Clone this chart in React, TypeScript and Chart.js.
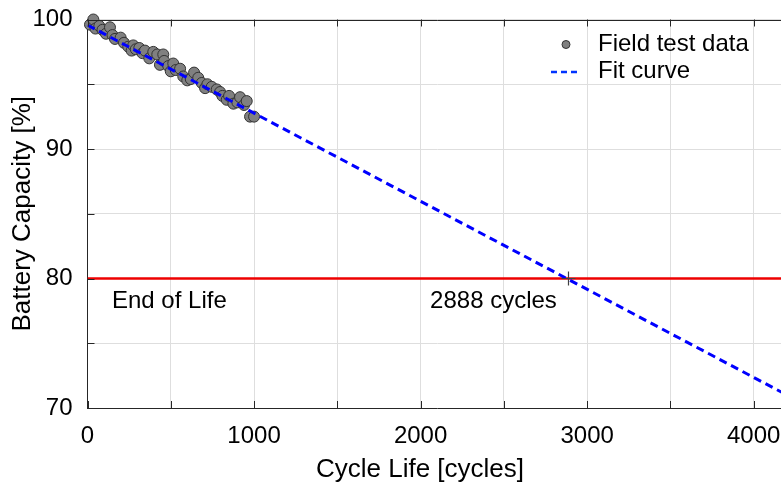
import { useEffect, useRef } from 'react';
import { Chart, registerables } from 'chart.js';

Chart.register(...registerables);

// ---- data ----
const fieldCycles = [15, 35, 48, 71, 90, 111, 135, 150, 165, 199, 219, 245, 265, 275, 290, 311, 330, 345, 371, 395, 419, 435, 455, 460, 485, 500, 515, 530, 556, 575, 599, 620, 640, 665, 686, 706, 720, 746, 776, 796, 810, 836, 850, 876, 900, 916, 940, 956, 976, 1000];
const fieldCapacity = [99.6, 100.0, 99.3, 99.5, 99.2, 98.9, 99.4, 98.8, 98.5, 98.6, 98.2, 97.9, 97.6, 98.0, 97.7, 97.8, 97.4, 97.6, 97.0, 97.5, 97.3, 96.5, 97.3, 96.8, 96.4, 96.0, 96.6, 96.1, 96.2, 95.6, 95.3, 95.4, 95.9, 95.5, 95.1, 94.7, 95.0, 94.8, 94.6, 94.4, 94.1, 93.8, 94.1, 93.5, 93.6, 94.0, 93.4, 93.7, 92.5, 92.5];
const fitCycles = [0, 4200];
const fitCapacity = [99.57, 71.0];
const eolCycles = [0, 4200];
const eolCapacity = [80, 80];
const crossingCycles = [2888];
const crossingCapacity = [80];
const xTickValues = [0, 500, 1000, 1500, 2000, 2500, 3000, 3500, 4000];
const yTickValues = [70, 75, 80, 85, 90, 95, 100];
const xLabeledTicks = [0, 1000, 2000, 3000, 4000];
const yLabeledTicks = [70, 80, 90, 100];
const legendLabels = ['Field test data', 'Fit curve'];
const xAxisTitle = 'Cycle Life [cycles]';
const yAxisTitle = 'Battery Capacity [%]';
const annotationTexts = ['End of Life', '2888 cycles'];
const annotationCycles = [147, 2057];
const annotationCapacity = [77.75, 77.75];

const FONT = '"Liberation Sans", Arial, Helvetica, sans-serif';
const FONT_SIZE = 24;
const TITLE_SIZE = 26;
const AXIS = '#262626';
const GRID = '#dedede';

const overlay = {
  id: 'overlay',
  afterDraw(chart: any) {
    const { ctx, chartArea: a, scales } = chart;
    const xs = scales.x;
    const ys = scales.y;
    ctx.save();
    // top border
    ctx.strokeStyle = AXIS;
    ctx.lineWidth = 1;
    ctx.beginPath();
    ctx.moveTo(a.left, Math.round(a.top) + 0.5);
    ctx.lineTo(a.right, Math.round(a.top) + 0.5);
    ctx.stroke();
    // inward ticks
    const tl = 7;
    ctx.beginPath();
    xs.ticks.forEach((t: any) => {
      const px = Math.round(xs.getPixelForValue(t.value)) + 0.5;
      ctx.moveTo(px, a.bottom);
      ctx.lineTo(px, a.bottom - tl);
      ctx.moveTo(px, a.top);
      ctx.lineTo(px, a.top + tl);
    });
    ys.ticks.forEach((t: any) => {
      const py = Math.round(ys.getPixelForValue(t.value)) + 0.5;
      ctx.moveTo(a.left, py);
      ctx.lineTo(a.left + tl, py);
    });
    ctx.stroke();

    // x axis title (centred under the visible part of the axes)
    ctx.fillStyle = '#000';
    ctx.font = `${TITLE_SIZE}px ${FONT}`;
    ctx.textAlign = 'center';
    ctx.textBaseline = 'middle';
    ctx.fillText(xAxisTitle, 420, 469.5);

    // annotations
    ctx.font = `${FONT_SIZE}px ${FONT}`;
    ctx.textBaseline = 'alphabetic';
    ctx.textAlign = 'left';
    annotationTexts.forEach((txt, i) => {
      ctx.fillText(txt, xs.getPixelForValue(annotationCycles[i]), ys.getPixelForValue(annotationCapacity[i]));
    });

    // legend
    const r = a.right;
    const textX = r - 189;
    ctx.fillText(legendLabels[0], textX, 51);
    ctx.fillText(legendLabels[1], textX, 78);
    ctx.beginPath();
    ctx.arc(r - 221, 44.5, 4, 0, Math.PI * 2);
    ctx.fillStyle = '#808080';
    ctx.fill();
    ctx.strokeStyle = '#333';
    ctx.lineWidth = 1;
    ctx.stroke();
    ctx.beginPath();
    ctx.setLineDash([6, 4]);
    ctx.strokeStyle = '#0033ff';
    ctx.lineWidth = 2.5;
    ctx.moveTo(r - 236, 72);
    ctx.lineTo(r - 210, 72);
    ctx.stroke();
    ctx.restore();
  },
};

export default function App() {
  const ref = useRef<HTMLCanvasElement>(null);
  useEffect(() => {
    const chart = new Chart(ref.current!, {
      type: 'scatter',
      data: {
        datasets: [
          {
            label: 'crossing',
            data: crossingCycles.map((x, i) => ({ x, y: crossingCapacity[i] })),
            pointStyle: 'cross',
            pointRadius: 7,
            borderColor: '#404040',
            borderWidth: 1.2,
            order: 0,
          },
          {
            label: legendLabels[1],
            type: 'line',
            data: fitCycles.map((x, i) => ({ x, y: fitCapacity[i] })),
            borderColor: '#0000ff',
            borderWidth: 3,
            borderDash: [8, 5],
            pointRadius: 0,
            fill: false,
            order: 1,
          },
          {
            label: 'eol',
            type: 'line',
            data: eolCycles.map((x, i) => ({ x, y: eolCapacity[i] })),
            borderColor: '#ee0000',
            borderWidth: 2.5,
            pointRadius: 0,
            fill: false,
            order: 2,
          },
          {
            label: legendLabels[0],
            data: fieldCycles.map((x, i) => ({ x, y: fieldCapacity[i] })),
            pointRadius: 5.5,
            backgroundColor: '#808080',
            borderColor: '#333333',
            borderWidth: 1,
            clip: false as any,
            order: 3,
          },
        ],
      },
      options: {
        responsive: false,
        animation: false,
        devicePixelRatio: 1,
        layout: { padding: { top: 19.5, right: 13, left: 0, bottom: 0 } },
        plugins: { legend: { display: false }, tooltip: { enabled: false } },
        scales: {
          x: {
            type: 'linear',
            min: 0,
            max: 4200,
            afterFit: (s: any) => { s.height = 80; s.paddingLeft = 0; s.paddingRight = 0; },
            afterBuildTicks: (s: any) => { s.ticks = xTickValues.map((v) => ({ value: v })); },
            ticks: {
              autoSkip: false,
              maxRotation: 0,
              padding: 14,
              color: '#000',
              font: { family: FONT, size: FONT_SIZE },
              callback: (v: any) => (xLabeledTicks.includes(Number(v)) ? String(v) : ''),
            },
            grid: { color: GRID, drawTicks: false, lineWidth: 1 },
            border: { display: true, color: AXIS, width: 1 },
            title: { display: false },
          },
          y: {
            type: 'linear',
            min: 70,
            max: 100,
            afterFit: (s: any) => { s.width = 87.5; s.paddingTop = 0; s.paddingBottom = 0; },
            afterBuildTicks: (s: any) => { s.ticks = yTickValues.map((v) => ({ value: v })); },
            ticks: {
              autoSkip: false,
              padding: 15,
              color: '#000',
              font: { family: FONT, size: FONT_SIZE },
              callback: (v: any) => (yLabeledTicks.includes(Number(v)) ? String(v) : ''),
            },
            grid: { color: GRID, drawTicks: false, lineWidth: 1 },
            border: { display: true, color: AXIS, width: 1 },
            title: {
              display: true,
              text: yAxisTitle,
              color: '#000',
              font: { family: FONT, size: TITLE_SIZE },
              padding: { top: 7.5, bottom: 0 },
            },
          },
        },
      },
      plugins: [overlay],
    } as any);
    return () => chart.destroy();
  }, []);
  return (
    <div style={{ position: 'fixed', left: 0, top: 0, width: 781, height: 488, overflow: 'hidden', background: '#fff' }}>
      <canvas ref={ref} width={800} height={488} style={{ display: 'block', width: 800, height: 488 }} />
    </div>
  );
}
